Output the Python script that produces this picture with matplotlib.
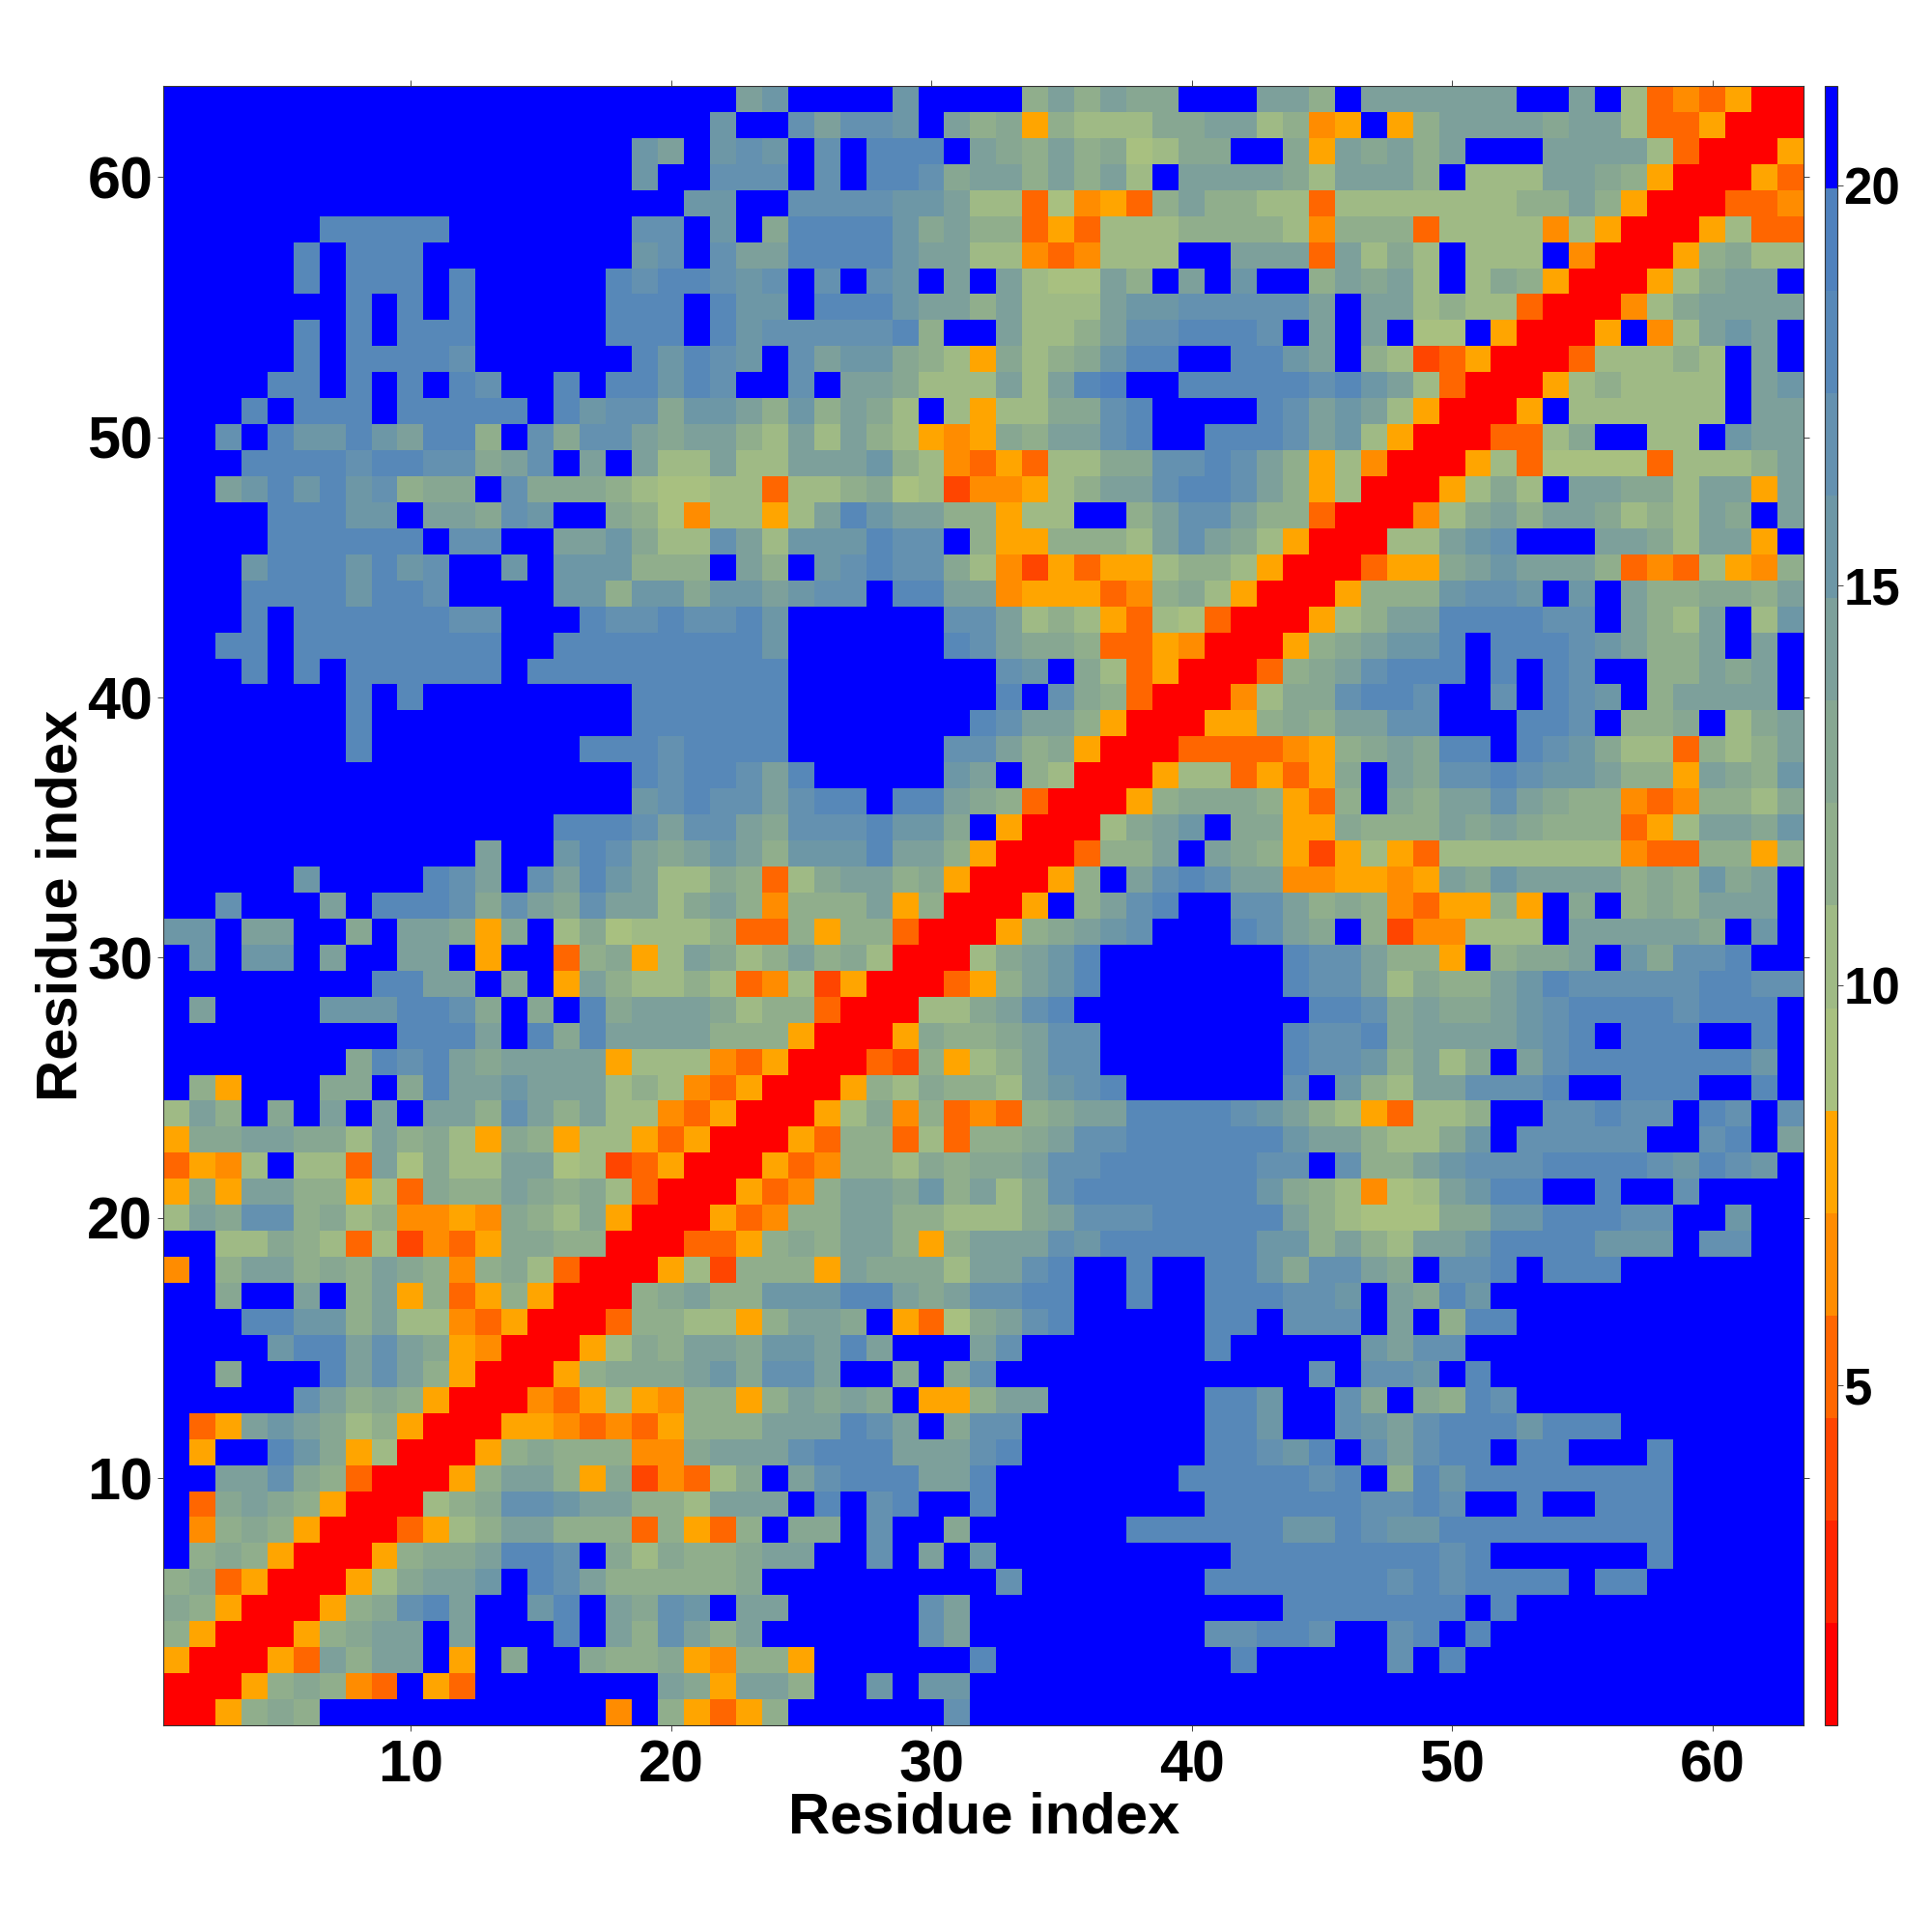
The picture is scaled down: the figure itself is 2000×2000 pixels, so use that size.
import numpy as np
import matplotlib
matplotlib.use("Agg")
import matplotlib.pyplot as plt
from matplotlib.colors import ListedColormap, BoundaryNorm

plt.rcParams['font.family'] = ['Liberation Sans', 'DejaVu Sans']

# Colour level of each cell (hex digit = colour-bar band, 0 lowest, F highest).
# Each row: residues 1-21, 22-42, 43-63; first row is residue 63.
rows_top = [
"FFFFFFFFFFFFFFFFFFFFF FABFFFFBFFFF8A8A99FFF AA8FAAAAAAFFAF7343500",
"FFFFFFFFFFFFFFFFFFFFF BFFCACCBFA895877799AA 7845F58AAAA9AA7335000",
"FFFFFFFFFFFFFFFFFFBAF BCBFCFDDDFA98A896799F F95A9A8AFFFAAAA730005",
"FFFFFFFFFFFFFFFFFFBFF CCCFCFDDC9AA8A8A7FAAA A97AAA8F777AA98500053",
"FFFFFFFFFFFFFFFFFFFFB BFFCCCCBBA77364538A88 773777777788A85000334",
"FFFFFFDDDDDFFFFFFFCCF BF9DDDDB9A88353777888 874888377774750005733",
"FFFFFDFDDDFFFFFFFFBCF CAADDDDBAA77434777FFA AA3A797F777F400058977",
"FFFFFDFDDDFDFFFFFDCDD CBCFCFCBFAFA766A8FAFB FF8A9A7F7985000579AAF",
"FFFFFFFDFDFDFFFFFDDDF DBBFDDDBAA8A777ABBCCC CCAFAA78773000479AAAA",
"FFFFFDFDFDDDFFFFFDDDF DBCCCCCD8FFA778ACCDDD CFAFAF66F50005F47ABAF",
"FFFFFDFDDDDCFFFFFFDBD CBFCABB98759789BDDFFD DBAF87235000377787FAF",
"FFFFDDFDFDFDCFFDFDDBD CFFCFAA9777A7ADEFFDDD DDCDBA730005787777FAB",
"FFFDFDDDFDDDDDFDBCC9B BA8B8A97F757799CDFFFF DCABA750005F777777FAA",
"FFCFDBBDBADD8FC9CCA9A A87A7A8754598AACDFFDD DCAB750003379FF77FBAA",
"FFFDDDDCDDCC9ACFAFA77 A77AAAB8743537799CCDC A8574000573666637778A",
"FFABDBDBC899FC9998766 773778967244578AACDDC A8570005797FAA997AA5A",
"FFFFDDDBBFAA9CBFF9864 7757ADBAA88577FF8ACCA 883000479A8AA9787A9FA",
"FFFFDDDDDDFCCFFAAB977 CA7BBBDCCF8558887ACA9 7500077ABCFFFAA97AA5F",
"FFFBDDDBDBCFFBFBBB888 FA8FBCDCC974253557887 50003559ABAAA83437548",
"FFFDDDDBDDCFFFFBB8BB9 BBABCCFDDAA4555348975 0005888BCCBFBFA88998A",
"FFFDFDDDDDDCCFFFDCCDC CDBFFFFFFCCA787537630 00578AADDDDCCFA87AF7B",
]
rows_middle = [
"FFDDFDDDDDDDDFFDDDDDD DDBFFFFFFDCA998335400 0589ABBDFDDDCBA88AFAF",
"FFFDFDFDDDDDDFDDDDDDD DDDFFFFFFFFCBF9735000 389ACDDDFDFDCFF88A9AF",
"FFFFFFFDFDFFFFFFFFDDD DDDFFFFFFFFDFC9830004 799CDDCFFCFDCBF8AAAAF",
"FFFFFFFDFFFFFFFFFFDDD DDDFFFFFFFDCAA8500055 898AACCFFFDDCF889F79A",
"FFFFFFFDFFFFFFFFDDDCD DDDFFFFFFCCA895000333 34589A9DDFDCB9773878A",
"FFFFFFFFFFFFFFFFFFDCD DCADFFFFFBAF870005773 5359FA9CCDCBBA885A98B",
"FFFFFFFFFFFFFFFFFFBCD CCACDDFDDA98300058999 8538F98AACA9884348879",
"FFFFFFFFFFFFFFFDDDCAC CA9CCCDBB9F500079ABF9 9559888A9A9888357AA9B",
"FFFFFFFFFFFFAFFBDCA9A BA8BBBDAA85000388AFA9 852575377777774338858",
"FFFFFBFFFFDCAFCADBA77 98379AA89500058FACDCA A445545A9BAAAA898B9AF",
"FFCFFFAFDDDC9CA9CAA79 A84888A580005F8ACDFFC CA898435585F9F898AAAF",
"BBFAAFF9FAA959F796777 83385883000589ABCFFFD CA9F8244777FAAAAA9FBF",
"FBFBBFAFFAAF5FF38957A 978A89700079ABDFFFFFF FDCCA885F899AFB9CCDFF",
"FFFFFFFFDDAAF9F5A8778 734725000358ABDFFFFFF FDCCA7988ABDCCCCCDDCC",
"FAFFFFBBBDDC9F9FD9AAA 97883000779ACDFFFFFFF FFDDC9A99ABCDDDDCDDDF",
"FFFFFFFFFDDDAFD9DAAAA 888500059889ACCFFFFFF FDCCD9AAAABCDFDDDFFDF",
"FFFFFFF9DCDA9AAAA5777 435000328578ACCFFFFFF FDCCB8A79FACDDDDDDDBF",
"F85FFF99F9DAABAAA7874 350005879887ABCDFFFFF FCFB87AACCCDFFDDDFFDF",
"7A8F9FAFAFAA8CA8A7743 50005794834389AADDDDC BA8753778FFCCDCCFDCFC",
"599AA997A897598577535 0005388373889ACCDDDDD DBAA8779BFCCCCCFFCDFA",
"3547F773A6977AA672350 005348879899ACCDDDDDD CCFC88ABCCCDDDDCBDCBF",
]
rows_bottom = [
"595AA88573988A9897300 05348AA9B8A79CDDDDDDD B987467ABDDFFDFFCFFFF",
"7A9CC8978445498795000 53488AA887779ACCCDDDD DA8766699BBDDDCCFFBFF",
"FF7798737243599880003 35898AA858AAACBDDDDDD BB8A87AABDDDDBBBFCCFF",
"4F8AA898A984897300057 28885A9997AACDFFDFFDD B9CCA9FCCDFDDDFFFFFFF",
"FF9FFAF8A58358500089A 88BBBDDA9ACCDDFFDFFDD DCCBFA9DBFFFFFFFFFFFF",
"FFFDDBB8A774350003887 758AA9F5369ACDFFFFFDD FCCCFAF8DDFFFFFFFFFFF",
"FFFFBDDACA9540005798A A9BBADAFFFACFFFFFFFDF FFFFBACCFFFFFFFFFFFFF",
"FF9FFFDACA8500058999A B9CCAFF9F9CFFFFFFFFFF FFCFCCBFDFFFFFFFFFFFF",
"FFFFFCA89850004357548 858A9A9F558AAFFFFFFDD BFFC9F98DCFFFFFFFFFFF",
"F35ABA978500055434358 88AAADCAF9CCFFFFFFFDD BFFCBACDDDBDDDFFFFFFF",
"F5FFDB957000589888449 AAACDDDAAACDFFFFFFFDD CBDFCACDDFDDFFFDFFFFF",
"FFAAC98300058AA859243 79FACDDDAADFFFFFFFDDD DDCDF8DBDDDDDDDDFFFFF",
"F39A985000789CCBAA887 AAAFDFCDFFDFFFFFFFFDD DDDDCCDCFFDFFDDDFFFFF",
"F489850003578AA888385 38F99FCFF9FFFFFFDDDDD DBBDCBBDDDDDDDDDFFFFF",
"F89850005899ADDCF9798 89AAFFCFAFBFFFFFFFFFD DDDDDDDCDFFFFFFDFFFFF",
"8935000579AABFDCA8888 89FFFFFFFFFCFFFFFFFDD DDDDDCDCDDDDFDDFFFFFF",
"985000589CDAFFBDFA9CB FAAFFFFFCAFFFFFFFFFFF FDDDDDDDFDFFFFFFFFFFF",
"85000589AAFAFFFDFA8CA 8AFFFFFFCAFFFFFFFFFCC DDCFFCDFDFFFFFFFFFFFF",
"500053A8AAF5F9FF98895 4885FFFFFFDFFFFFFFFFD FFFFFCFDFFFFFFFFFFFFF",
"000589843F53FFFFFFFA9 5AA8FFBFBBFFFFFFFFFFF FFFFFFFFFFFFFFFFFFFFF",
"005898FFFFFFFFFFF4F85 358FFFFFFCFFFFFFFFFFF FFFFFFFFFFFFFFFFFFFFF",
]

band_colors = ["#FF0000", "#FF2400", "#FF4500", "#FF6600", "#FF8C00", "#FFA500",
               "#A8C080", "#9FBA85", "#90AE8C", "#87A792", "#7DA09B", "#6D97A6",
               "#6491B0", "#5788B8", "#4F81BD", "#0000FF"]
value_min, value_max = 0.75, 21.25
residue_ticks = [10, 20, 30, 40, 50, 60]
bar_ticks = [5, 10, 15, 20]
axis_label = "Residue index"

all_rows = [r.replace(" ", "") for r in rows_top + rows_middle + rows_bottom]
bad = [i for i, r in enumerate(all_rows) if len(r) != 63]
if bad:
    raise SystemExit(f"bad rows {bad}")
bounds = np.linspace(value_min, value_max, len(band_colors) + 1)
centers = 0.5 * (bounds[:-1] + bounds[1:])
grid = np.array([[centers[int(ch, 16)] for ch in r] for r in all_rows])

cmap = ListedColormap(band_colors)
norm = BoundaryNorm(bounds, cmap.N)

W = H = 2000
fig = plt.figure(figsize=(10, 10), dpi=200)
ax = fig.add_axes([169 / W, (H - 1786) / H, 1698 / W, 1697 / H])
im = ax.imshow(grid, cmap=cmap, norm=norm, origin="upper",
               extent=(0.5, 63.5, 0.5, 63.5), aspect="auto", interpolation="nearest")
ax.set_xticks(residue_ticks)
ax.set_yticks(residue_ticks)
ax.tick_params(axis="both", which="major", direction="out", length=2.3, width=0.35,
               color="#444444", top=True, right=True, labelsize=22)
ax.tick_params(axis="x", pad=2.8)
ax.tick_params(axis="y", pad=1.6)
for lab in ax.get_xticklabels() + ax.get_yticklabels():
    lab.set_fontweight("bold")
for s in ax.spines.values():
    s.set_linewidth(0.4)
    s.set_color("#333333")
ax.set_xlabel(axis_label, fontsize=21.5, fontweight="bold", va="center")
ax.set_ylabel(axis_label, fontsize=21.5, fontweight="bold", va="center")
ax.xaxis.set_label_coords(0.5003, -0.0565)
ax.yaxis.set_label_coords(-0.0616, 0.500)

cax = fig.add_axes([1889 / W, (H - 1786) / H, 13 / W, 1697 / H])
cb = fig.colorbar(im, cax=cax, ticks=bar_ticks, spacing="proportional")
cb.ax.tick_params(direction="out", length=2.0, width=0.35, color="#444444",
                  labelsize=19, pad=0.3)
cb.ax.minorticks_off()
cb.set_ticklabels([str(t) for t in bar_ticks])
for lab in cb.ax.get_yticklabels():
    lab.set_fontweight("bold")
cb.outline.set_linewidth(0.4)
cb.outline.set_edgecolor("#333333")

fig.savefig("out.png", dpi=200)
